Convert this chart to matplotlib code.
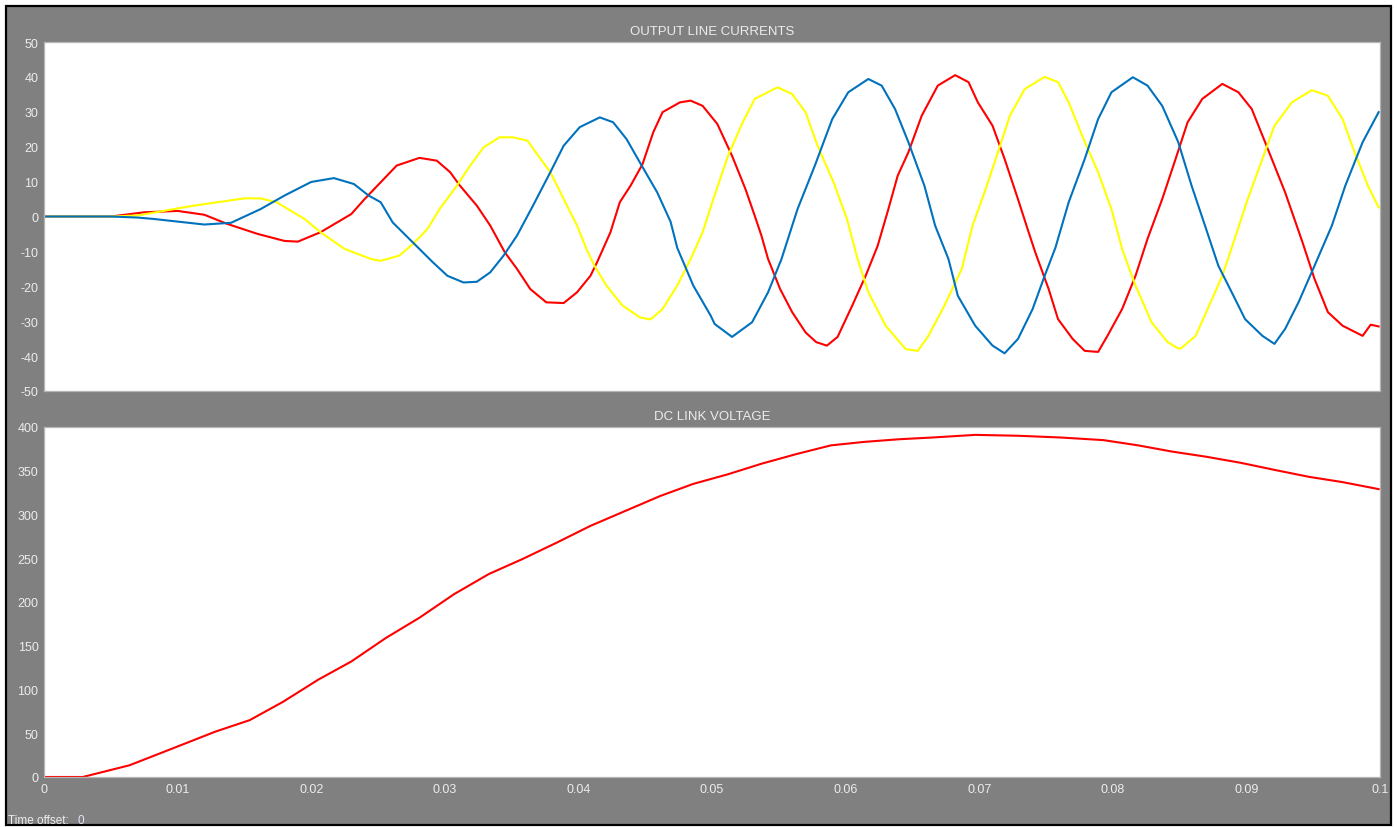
import numpy as np
import matplotlib
matplotlib.use('Agg')
import matplotlib.pyplot as plt
from matplotlib.patches import Rectangle

plt.rcParams['font.family'] = ['Liberation Sans', 'DejaVu Sans']
plt.rcParams['axes.unicode_minus'] = False

# phase currents, time in ms, current in A
t_red = [0, 5.0, 7.5, 10.0, 12.0, 13.7, 16.0, 18.0, 19.0, 20.7, 23.0, 24.0, 25.2, 26.4,
         28.1, 29.4, 30.4, 31.1, 32.4, 33.4, 34.5, 35.4, 36.4, 37.6, 38.9, 39.9, 40.9,
         41.4, 42.4, 43.1, 43.9, 44.8, 45.6, 46.3, 47.6, 48.4, 49.3, 50.4, 51.5, 52.5,
         53.2, 53.7, 54.2, 55.1, 56.0, 57.0, 57.8, 58.6, 59.4, 60.5, 61.5, 62.4, 63.2,
         63.9, 64.7, 65.7, 66.9, 68.2, 69.2, 69.9, 71.0, 71.9, 72.9, 73.7, 74.2, 75.2,
         75.9, 77.0, 77.9, 78.9, 79.6, 80.7, 81.7, 82.6, 83.7, 84.7, 85.6, 86.7, 88.2,
         89.4, 90.4, 91.4, 92.9, 94.2, 95.1, 96.1, 97.2, 98.7, 99.3, 99.9]
i_red = [0, 0, 1.2, 1.6, 0.5, -2.1, -5, -7.0, -7.2, -4.5, 0.7, 5, 9.8, 14.6,
         16.8, 16, 12.7, 9, 3.1, -2.6, -10.3, -15, -20.8, -24.6, -24.8, -21.7, -17,
         -13.1, -4.5, 4.1, 8.8, 15, 24.1, 29.9, 32.7, 33.2, 31.7, 26.5, 17.4, 7.9,
         0.2, -5.5, -12.2, -20.8, -27.4, -33.2, -36.0, -37.0, -34.5, -25.5, -17, -8.4, 2.1,
         11.7, 18.4, 28.9, 37.5, 40.5, 38.5, 32.7, 26, 16.5, 5, -4.5, -10.3, -20.8,
         -29.4, -35.1, -38.5, -38.8, -34.2, -26.5, -17, -6.4, 5, 16.5, 27, 33.7, 38,
         35.6, 30.8, 21.3, 6.9, -7.4, -17.9, -27.4, -31.3, -34.2, -31.0, -31.5]

t_yel = [0, 5.0, 7.0, 11.2, 15.0, 16.2, 17.4, 19.5, 20.7, 22.5, 24.5, 25.2, 26.6, 27.6,
         28.7, 29.6, 30.9, 31.9, 32.9, 34.1, 35.1, 36.2, 36.9, 37.9, 38.9, 39.9, 40.6,
         41.2, 42.1, 43.3, 44.6, 45.4, 46.3, 47.4, 48.4, 49.3, 50.1, 51.2, 52.3, 53.2,
         54.9, 56.0, 57.0, 57.9, 59.1, 60.1, 60.9, 61.7, 63.0, 64.5, 65.4, 66.2, 67.4,
         68.7, 69.5, 70.4, 71.4, 72.3, 73.4, 74.9, 75.9, 76.7, 77.7, 78.9, 79.9, 80.7,
         81.7, 82.9, 84.1, 84.9, 85.1, 86.2, 87.1, 88.2, 89.2, 90.1, 91.2, 92.1, 93.4,
         94.9, 96.1, 97.2, 98.1, 99.1, 99.9]
i_yel = [0, 0, 0.3, 3.1, 5.2, 5.2, 4.1, -0.7, -4.5, -9.3, -12.2, -12.7, -11.2, -7.9,
         -3.6, 2.1, 8.8, 14.6, 19.8, 22.7, 22.7, 21.7, 17.9, 12.7, 5, -2.6, -9.3,
         -14.1, -19.8, -25.5, -28.9, -29.5, -26.5, -19.8, -12.2, -4.5, 5, 17.4, 27, 33.7,
         37, 35.1, 29.9, 20.3, 9.8, -0.7, -12.2, -21.7, -31.3, -38, -38.5, -34.2, -25.5,
         -15, -2.6, 6.9, 18.4, 28.9, 36.5, 40, 38.5, 32.7, 23.2, 12.7, 2.1, -9.3,
         -19.8, -30.3, -36, -37.8, -37.8, -34.2, -26.5, -17, -5.5, 5, 16.5, 26, 32.7,
         36.2, 34.6, 27.9, 18.4, 8.8, 2.6]

t_blu = [0, 5.0, 7.0, 8.2, 12.0, 14.0, 16.2, 18.0, 20.0, 21.7, 23.2, 24.3, 25.2, 26.1,
         27.6, 29.1, 30.2, 31.4, 32.4, 33.4, 34.4, 35.4, 36.6, 37.9, 38.9, 40.1, 41.6,
         42.6, 43.6, 44.6, 45.9, 46.9, 47.4, 48.6, 49.9, 50.2, 51.5, 53.0, 54.2, 55.2,
         56.4, 57.7, 59.0, 60.2, 61.7, 62.7, 63.7, 64.7, 65.9, 66.7, 67.7, 68.4, 69.7,
         71.0, 71.9, 72.9, 74.0, 74.9, 75.7, 76.7, 77.9, 78.9, 79.9, 81.5, 82.6, 83.7,
         84.9, 85.9, 86.9, 87.9, 88.9, 89.9, 91.2, 92.1, 92.9, 93.9, 95.1, 96.4, 97.4,
         98.7, 99.9]
i_blu = [0, 0, -0.3, -0.7, -2.3, -1.8, 2.1, 6, 9.9, 11.0, 9.3, 6, 4.1, -1.7,
         -7.4, -13.1, -17, -18.9, -18.7, -16, -11.2, -5.5, 3.1, 12.7, 20.3, 25.6, 28.4,
         27, 22.2, 15.5, 6.9, -1.5, -9.0, -19.8, -28.4, -30.8, -34.5, -30.3, -21.7, -12.2,
         2.1, 14.6, 27.9, 35.6, 39.4, 37.5, 30.8, 21.3, 8.8, -2.6, -12.2, -22.7, -31.3,
         -37, -39.2, -35.1, -26.5, -17, -9, 4.1, 16.5, 27.9, 35.6, 39.9, 37.5, 31.7,
         21.3, 8.8, -2.6, -14.1, -21.7, -29.4, -34.2, -36.5, -32.2, -24.6, -14.1, -2.6, 8.8,
         21.3, 29.9]

# dc link voltage, time in ms, voltage in V
t_dc = [0, 2.9, 6.4, 9.6, 12.8, 15.4, 17.9, 20.5, 23.0, 25.6, 28.1, 30.7, 33.3, 35.8,
        38.4, 40.9, 43.5, 46.1, 48.6, 51.2, 53.7, 56.3, 58.9, 61.4, 64.0, 66.5, 69.7,
        72.9, 76.1, 79.3, 81.9, 84.4, 87.0, 89.6, 92.1, 94.7, 97.2, 99.9]
v_dc = [0, 0, 13.4, 32.5, 51.7, 65, 86, 111, 132, 159, 182, 209, 232, 249,
        268, 287, 304, 321, 335, 346, 358, 369, 379, 383, 386, 388, 391,
        390, 388, 385, 379, 372, 366, 359, 351, 343, 337, 329]

x_ticks = [0, 0.01, 0.02, 0.03, 0.04, 0.05, 0.06, 0.07, 0.08, 0.09, 0.1]
x_labels = ['0', '0.01', '0.02', '0.03', '0.04', '0.05', '0.06', '0.07', '0.08', '0.09', '0.1']

GRAY = '#808080'
TXT = '#ececec'

fig = plt.figure(figsize=(13.97, 8.28), dpi=100)
fig.patch.set_facecolor('white')
# scope window background with black frame, kept behind the axes
fig.patches.append(Rectangle((6 / 1397, 2 / 828), 1385 / 1397, 819 / 828,
                             transform=fig.transFigure, facecolor=GRAY,
                             edgecolor='black', linewidth=1.6, zorder=-10))

def style_axes(ax):
    ax.set_facecolor('white')
    ax.set_zorder(1)
    for s in ax.spines.values():
        s.set_color('#b4b4b4')
        s.set_linewidth(0.9)
    ax.tick_params(length=0, colors=TXT, labelsize=9, pad=4)
    ax.set_xlim(0, 0.1)

ax1 = fig.add_axes([44 / 1397, 1 - 392 / 828, 1336 / 1397, 349 / 828])
style_axes(ax1)
ax1.plot(np.array(t_red) / 1000, i_red, color='#ff0000', lw=1.5)
ax1.plot(np.array(t_yel) / 1000, i_yel, color='#ffff00', lw=1.5)
ax1.plot(np.array(t_blu) / 1000, i_blu, color='#0072bd', lw=1.5)
ax1.set_ylim(-50, 50)
ax1.set_yticks(range(-50, 51, 10))
ax1.set_xticks(x_ticks)
ax1.set_xticklabels([])
ax1.set_title('OUTPUT LINE CURRENTS', color=TXT, fontsize=9.5, pad=6)

ax2 = fig.add_axes([44 / 1397, 1 - 778 / 828, 1336 / 1397, 350 / 828])
style_axes(ax2)
ax2.plot(np.array(t_dc) / 1000, v_dc, color='#ff0000', lw=1.5)
ax2.set_ylim(0, 400)
ax2.set_yticks(range(0, 401, 50))
ax2.set_xticks(x_ticks)
ax2.set_xticklabels(x_labels)
ax2.set_title('DC LINK VOLTAGE', color=TXT, fontsize=9.5, pad=6)

fig.text(8 / 1397, 1 - 821 / 828, 'Time offset:', color=TXT, fontsize=8.5, va='center', zorder=2)
fig.text(77 / 1397, 1 - 821 / 828, '0', color='#dfe6f5', fontsize=8.5, va='center', zorder=2)

fig.savefig('out.png', dpi=100, facecolor=fig.get_facecolor())
